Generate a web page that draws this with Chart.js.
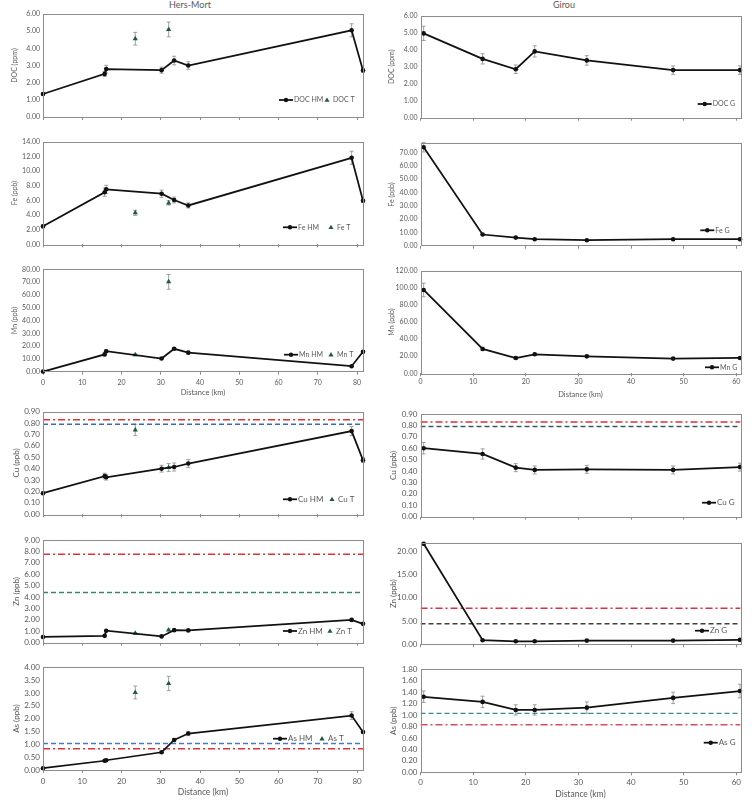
<!DOCTYPE html>
<html lang="en">
<head>
<meta charset="UTF-8">
<title>Hers-Mort / Girou</title>
<script src="https://cdn.jsdelivr.net/npm/chart.js"></script>
<style>
    body { margin: 0; background: #fff; font-family: Lato, "Liberation Sans", sans-serif; }
    #wrap { position: relative; width: 754px; height: 804px; overflow: hidden; }
    #wrap canvas { position: absolute; }
    .coltitle { position: absolute; top: -1px; font-size: 9px; color: #595959; transform: translateX(-50%); white-space: nowrap; }
</style>
</head>
<body>
<div id="wrap">
    <div class="coltitle" style="left:190px">Hers-Mort</div>
    <div class="coltitle" style="left:564px">Girou</div>
</div>
<script>
// distances (km)
const hmDist = [0, 15.7, 16.1, 30.2, 33.4, 37.0, 78.6, 81.5];
const tDist = [23.5, 32.0];
const gDist = [0.6, 11.8, 18.1, 21.7, 31.6, 48.0, 60.7];

// DOC (ppm)
const docHM = [1.34, 2.51, 2.79, 2.73, 3.29, 3.00, 5.05, 2.71];
const docHMErr = [0.08, 0.15, 0.22, 0.18, 0.25, 0.22, 0.38, 0.10];
const docT = [4.56, 5.10];
const docTErr = [0.37, 0.43];
const docG = [4.96, 3.46, 2.85, 3.90, 3.37, 2.80, 2.80];
const docGErr = [0.42, 0.30, 0.25, 0.33, 0.28, 0.25, 0.25];

// Fe (ppb)
const feHM = [2.45, 7.10, 7.50, 6.90, 6.05, 5.30, 11.80, 5.95];
const feHMErr = [0.2, 0.55, 0.55, 0.5, 0.4, 0.35, 0.9, 0.2];
const feT = [4.30, 5.65];
const feTErr = [0.35, 0.3];
const feG = [74.0, 8.4, 6.1, 4.9, 4.1, 4.9, 4.9];
const feGErr = [3.5, 0.5, 0.4, 0.3, 0.3, 0.3, 0.3];

// Mn (ppb)
const mnHM = [0.1, 13.5, 16.0, 10.3, 17.9, 14.9, 4.3, 15.6];
const mnHMErr = [0.3, 1.0, 1.2, 0.8, 1.0, 1.0, 0.5, 1.0];
const mnT = [13.2, 70.2];
const mnTErr = [0.8, 5.8];
const mnG = [97.5, 28.5, 17.9, 22.2, 19.8, 17.2, 17.9];
const mnGErr = [8, 2, 1.5, 1.5, 1.2, 1, 1];

// Cu (ppb)
const cuHM = [0.185, 0.335, 0.325, 0.40, 0.415, 0.445, 0.73, 0.475];
const cuHMErr = [0.01, 0.025, 0.025, 0.03, 0.035, 0.035, 0.04, 0.02];
const cuT = [0.74, 0.41];
const cuTErr = [0.05, 0.035];
const cuG = [0.60, 0.55, 0.43, 0.41, 0.415, 0.41, 0.435];
const cuGErr = [0.05, 0.045, 0.035, 0.035, 0.035, 0.035, 0.035];
const cuRef = [0.83, 0.79];

// Zn (ppb)
const znHM = [0.50, 0.60, 1.05, 0.55, 1.10, 1.08, 2.00, 1.65];
const znHMErr = [0.04, 0.05, 0.06, 0.05, 0.06, 0.06, 0.08, 0.06];
const znT = [0.82, 1.12];
const znTErr = [0.05, 0.08];
const znG = [21.6, 0.88, 0.65, 0.65, 0.80, 0.80, 0.95];
const znGErr = [0.3, 0.1, 0.08, 0.08, 0.08, 0.08, 0.1];
const znRef = [7.75, 4.40];

// As (ppb)
const asHM = [0.07, 0.36, 0.38, 0.69, 1.17, 1.42, 2.12, 1.48];
const asHMErr = [0.02, 0.03, 0.03, 0.04, 0.06, 0.08, 0.15, 0.05];
const asT = [3.02, 3.37];
const asTErr = [0.25, 0.28];
const asG = [1.32, 1.23, 1.09, 1.09, 1.13, 1.30, 1.42];
const asGErr = [0.1, 0.1, 0.09, 0.09, 0.1, 0.1, 0.12];
const asRef = [0.83, 1.03];

const GRAY = "#595959";
const T_GREEN = "#1f5c3c";
const RED = "#e0303c";
const FONT = "Lato, 'Liberation Sans', sans-serif";

function pts(xs, ys) {
    return xs.map((x, i) => ({ x: x, y: ys[i] }));
}

const errorBars = {
    id: "errorBars",
    beforeDatasetsDraw(chart) {
        const ctx = chart.ctx, sx = chart.scales.x, sy = chart.scales.y;
        ctx.save();
        ctx.strokeStyle = "#8a8a8a";
        ctx.lineWidth = 0.8;
        chart.data.datasets.forEach(ds => {
            if (!ds.errs) return;
            ds.data.forEach((p, i) => {
                const e = ds.errs[i];
                if (!e) return;
                const px = sx.getPixelForValue(p.x);
                const y1 = sy.getPixelForValue(p.y - e), y2 = sy.getPixelForValue(p.y + e);
                ctx.beginPath();
                ctx.moveTo(px, y1); ctx.lineTo(px, y2);
                ctx.moveTo(px - 2, y1); ctx.lineTo(px + 2, y1);
                ctx.moveTo(px - 2, y2); ctx.lineTo(px + 2, y2);
                ctx.stroke();
            });
        });
        ctx.restore();
    }
};

const panelDecor = {
    id: "panelDecor",
    afterDraw(chart, args, opts) {
        const ctx = chart.ctx, a = chart.chartArea;
        ctx.save();
        ctx.strokeStyle = "#8c8c8c";
        ctx.lineWidth = 1;
        ctx.strokeRect(Math.round(a.left) + 0.5, Math.round(a.top) + 0.5,
            Math.round(a.right - a.left), Math.round(a.bottom - a.top));
        ctx.font = opts.fontSize + "px " + FONT;
        ctx.textBaseline = "middle";
        (opts.items || []).forEach(it => {
            if (it.kind === "line") {
                ctx.strokeStyle = "#111";
                ctx.lineWidth = 1.75;
                ctx.beginPath();
                ctx.moveTo(it.x, it.y); ctx.lineTo(it.x + 14, it.y);
                ctx.stroke();
                ctx.fillStyle = "#111";
                ctx.beginPath();
                ctx.arc(it.x + 7, it.y, 2.2, 0, Math.PI * 2);
                ctx.fill();
                ctx.fillStyle = GRAY;
                ctx.fillText(it.label, it.x + 15, it.y);
            } else {
                ctx.fillStyle = T_GREEN;
                ctx.beginPath();
                ctx.moveTo(it.x, it.y - 2.6);
                ctx.lineTo(it.x + 2.6, it.y + 1.8);
                ctx.lineTo(it.x - 2.6, it.y + 1.8);
                ctx.closePath();
                ctx.fill();
                ctx.fillStyle = GRAY;
                ctx.fillText(it.label, it.x + 6, it.y);
            }
        });
        ctx.restore();
    }
};

function lineSet(xs, ys, errs) {
    return {
        data: pts(xs, ys), errs: errs, showLine: true,
        borderColor: "#111", borderWidth: 1.75,
        pointRadius: 2.3, pointBackgroundColor: "#111", pointBorderWidth: 0,
        clip: false
    };
}

function triSet(xs, ys, errs) {
    return {
        data: pts(xs, ys), errs: errs, showLine: false,
        pointStyle: "triangle", pointRadius: 3,
        pointBackgroundColor: T_GREEN, pointBorderColor: T_GREEN, pointBorderWidth: 0,
        clip: false
    };
}

function refSet(v, xMax, color, dash) {
    return {
        data: [{ x: 0, y: v }, { x: xMax, y: v }], showLine: true,
        borderColor: color, borderWidth: 1.4, borderDash: dash, pointRadius: 0
    };
}

const DASHDOT = [7, 3, 2, 3];
const DASHED = [5, 3];

function makePanel(p) {
    const canvas = document.createElement("canvas");
    const left = p.col === 0 ? 0 : 377;
    canvas.width = 377;
    canvas.height = p.height;
    canvas.style.left = left + "px";
    canvas.style.top = p.top + "px";
    canvas.style.width = "377px";
    canvas.style.height = p.height + "px";
    document.getElementById("wrap").appendChild(canvas);

    const fs = p.fs;
    new Chart(canvas.getContext("2d"), {
        type: "scatter",
        data: { datasets: p.datasets },
        options: {
            responsive: false,
            animation: false,
            layout: { padding: { top: p.padTop, right: p.col === 0 ? 14 : 13.5, left: 0, bottom: 0 } },
            plugins: {
                legend: { display: false },
                tooltip: { enabled: false },
                panelDecor: { fontSize: fs, items: p.legend }
            },
            scales: {
                x: {
                    type: "linear", min: 0, max: p.xMax,
                    afterFit: s => { s.height = p.xh; },
                    ticks: {
                        stepSize: 10, includeBounds: false, display: p.showX,
                        maxRotation: 0, autoSkip: false, padding: p.xLabelPad || 3,
                        color: GRAY, font: { family: FONT, size: fs }
                    },
                    grid: { drawOnChartArea: false, tickLength: 3, color: "#8c8c8c" },
                    border: { display: false },
                    title: {
                        display: p.showX, text: "Distance (km)", color: GRAY,
                        font: { family: FONT, size: fs + 0.5 },
                        padding: { top: 0, bottom: p.xTitlePad || 0 }
                    }
                },
                y: {
                    min: 0, max: p.yMax,
                    afterFit: s => { s.width = p.col === 0 ? 43 : 43.5; },
                    ticks: {
                        stepSize: p.yStep, includeBounds: false, padding: 3, autoSkip: false,
                        color: GRAY, font: { family: FONT, size: fs },
                        callback: v => v.toFixed(2)
                    },
                    grid: { display: false, drawTicks: false },
                    border: { display: false },
                    title: {
                        display: true, text: p.yTitle, color: GRAY,
                        font: { family: FONT, size: fs },
                        padding: { top: p.yTitleOff, bottom: 0 }
                    }
                }
            }
        },
        plugins: [errorBars, panelDecor]
    });
}

const HM_MAX = 81.5;
const G_MAX = 60.8;

const panels = [
    // Hers-Mort column
    { col: 0, top: 0, height: 128, padTop: 14, xh: 11, xMax: HM_MAX, yMax: 6, yStep: 1, yTitle: "DOC (ppm)", fs: 7, yTitleOff: 10.8, showX: false,
      datasets: [lineSet(hmDist, docHM, docHMErr), triSet(tDist, docT, docTErr)],
      legend: [{ kind: "line", x: 279, y: 100, label: "DOC HM" }, { kind: "tri", x: 327, y: 100, label: "DOC T" }] },
    { col: 0, top: 128, height: 127, padTop: 13.7, xh: 10.7, xMax: HM_MAX, yMax: 14, yStep: 2, yTitle: "Fe (ppb)", fs: 7, yTitleOff: 10.8, showX: false,
      datasets: [lineSet(hmDist, feHM, feHMErr), triSet(tDist, feT, feTErr)],
      legend: [{ kind: "line", x: 283, y: 99.3, label: "Fe HM" }, { kind: "tri", x: 331, y: 99.3, label: "Fe T" }] },
    { col: 0, top: 255, height: 145, padTop: 14.3, xh: 28.3, xMax: HM_MAX, yMax: 80, yStep: 10, yTitle: "Mn (ppb)", fs: 7, yTitleOff: 10.8, showX: true, xLabelPad: 3.4, xTitlePad: 2.8,
      datasets: [lineSet(hmDist, mnHM, mnHMErr), triSet(tDist, mnT, mnTErr)],
      legend: [{ kind: "line", x: 284, y: 99.7, label: "Mn HM" }, { kind: "tri", x: 331, y: 99.7, label: "Mn T" }] },
    { col: 0, top: 400, height: 126, padTop: 11.7, xh: 11.7, xMax: HM_MAX, yMax: 0.9, yStep: 0.1, yTitle: "Cu (ppb)", fs: 8, yTitleOff: 11.9, showX: false,
      datasets: [lineSet(hmDist, cuHM, cuHMErr), triSet(tDist, cuT, cuTErr),
                 refSet(cuRef[0], HM_MAX, RED, DASHDOT), refSet(cuRef[1], HM_MAX, "#2f6fb5", DASHED)],
      legend: [{ kind: "line", x: 283, y: 99.3, label: "Cu HM" }, { kind: "tri", x: 332, y: 99.3, label: "Cu T" }] },
    { col: 0, top: 526, height: 128, padTop: 14, xh: 11.3, xMax: HM_MAX, yMax: 9, yStep: 1, yTitle: "Zn (ppb)", fs: 8, yTitleOff: 11.9, showX: false,
      datasets: [lineSet(hmDist, znHM, znHMErr), triSet(tDist, znT, znTErr),
                 refSet(znRef[0], HM_MAX, RED, DASHDOT), refSet(znRef[1], HM_MAX, "#2e8a6a", DASHED)],
      legend: [{ kind: "line", x: 283, y: 105, label: "Zn HM" }, { kind: "tri", x: 330, y: 105, label: "Zn T" }] },
    { col: 0, top: 654, height: 150, padTop: 13.3, xh: 34, xMax: HM_MAX, yMax: 4, yStep: 0.5, yTitle: "As (ppb)", fs: 8, yTitleOff: 11.9, showX: true, xLabelPad: 3.5, xTitlePad: 6.5,
      datasets: [lineSet(hmDist, asHM, asHMErr), triSet(tDist, asT, asTErr),
                 refSet(asRef[1], HM_MAX, "#3f7fc0", DASHED), refSet(asRef[0], HM_MAX, RED, DASHDOT)],
      legend: [{ kind: "line", x: 273, y: 84.7, label: "As HM" }, { kind: "tri", x: 322, y: 84.7, label: "As T" }] },

    // Girou column
    { col: 1, top: 0, height: 128, padTop: 15.7, xh: 10.3, xMax: G_MAX, yMax: 6, yStep: 1, yTitle: "DOC (ppm)", fs: 7, yTitleOff: 10.8, showX: false,
      datasets: [lineSet(gDist, docG, docGErr)],
      legend: [{ kind: "line", x: 320.7, y: 104, label: "DOC G" }] },
    { col: 1, top: 128, height: 128, padTop: 15.3, xh: 10.3, xMax: G_MAX, yMax: 77, yStep: 10, yTitle: "Fe (ppb)", fs: 7, yTitleOff: 10.8, showX: false,
      datasets: [lineSet(gDist, feG, feGErr)],
      legend: [{ kind: "line", x: 323.3, y: 102.3, label: "Fe G" }] },
    { col: 1, top: 256, height: 144, padTop: 14.7, xh: 26.7, xMax: G_MAX, yMax: 120, yStep: 20, yTitle: "Mn (ppb)", fs: 7, yTitleOff: 10.8, showX: true, xLabelPad: 1.5, xTitlePad: 0.5,
      datasets: [lineSet(gDist, mnG, mnGErr)],
      legend: [{ kind: "line", x: 328, y: 111.3, label: "Mn G" }] },
    { col: 1, top: 400, height: 128, padTop: 14, xh: 11.3, xMax: G_MAX, yMax: 0.9, yStep: 0.1, yTitle: "Cu (ppb)", fs: 8, yTitleOff: 11.9, showX: false,
      datasets: [lineSet(gDist, cuG, cuGErr),
                 refSet(cuRef[0], G_MAX, RED, DASHDOT), refSet(cuRef[1], G_MAX, "#3c5a66", DASHED)],
      legend: [{ kind: "line", x: 325, y: 102.7, label: "Cu G" }] },
    { col: 1, top: 528, height: 128, padTop: 15.3, xh: 11.7, xMax: G_MAX, yMax: 21.7, yStep: 5, yTitle: "Zn (ppb)", fs: 8, yTitleOff: 11.9, showX: false,
      datasets: [lineSet(gDist, znG, znGErr),
                 refSet(znRef[0], G_MAX, RED, DASHDOT), refSet(znRef[1], G_MAX, "#404040", DASHED)],
      legend: [{ kind: "line", x: 318, y: 102.7, label: "Zn G" }] },
    { col: 1, top: 656, height: 148, padTop: 13.3, xh: 31.7, xMax: G_MAX, yMax: 1.8, yStep: 0.2, yTitle: "As (ppb)", fs: 8, yTitleOff: 11.9, showX: true, xLabelPad: 2.2, xTitlePad: 4.2,
      datasets: [lineSet(gDist, asG, asGErr),
                 refSet(asRef[1], G_MAX, "#3a8a9a", DASHED), refSet(asRef[0], G_MAX, "#e04a5c", DASHDOT)],
      legend: [{ kind: "line", x: 326.7, y: 86.7, label: "As G" }] }
];

document.addEventListener("DOMContentLoaded", function () {
    panels.forEach(makePanel);
});
</script>
</body>
</html>
